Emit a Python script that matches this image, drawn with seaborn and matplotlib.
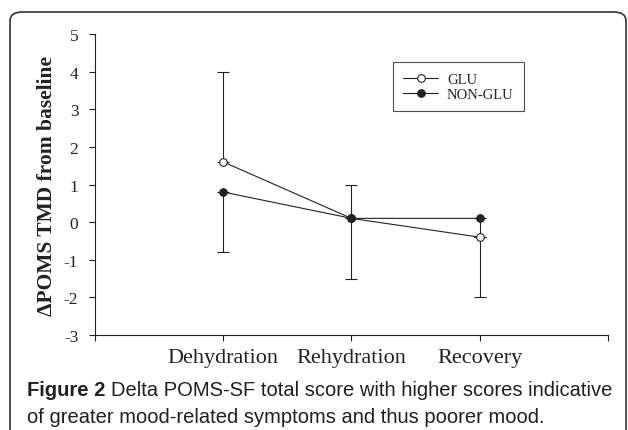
import numpy as np
import pandas as pd
import matplotlib
matplotlib.use('Agg')
import matplotlib.pyplot as plt
import seaborn as sns
from matplotlib.patches import FancyBboxPatch

phases = ['Dehydration', 'Rehydration', 'Recovery']
glu = [1.6, 0.1, -0.4]
non_glu = [0.8, 0.1, 0.1]
glu_err_up = [2.4, 0.9, 0.0]
non_glu_err_down = [1.6, 1.6, 2.1]

df = pd.DataFrame({'phase': phases * 2,
                   'value': glu + non_glu,
                   'group': ['GLU'] * 3 + ['NON-GLU'] * 3})

sns.set_style('ticks')
plt.rcParams['font.family'] = ['Liberation Serif', 'DejaVu Serif']
plt.rcParams['axes.unicode_minus'] = False

fig = plt.figure(figsize=(6.28, 4.31), dpi=100)
ax = fig.add_axes([0.1513, 0.2204, 0.8167, 0.6984])

ink = '#222222'
pos = np.arange(len(phases))

# one-sided error bars, under the markers
ax.errorbar(pos, glu, yerr=[np.zeros(3), glu_err_up], fmt='none',
            ecolor=ink, elinewidth=0.8, capsize=4, capthick=0.8, zorder=1)
ax.errorbar(pos, non_glu, yerr=[non_glu_err_down, np.zeros(3)], fmt='none',
            ecolor=ink, elinewidth=0.8, capsize=4, capthick=0.8, zorder=1)

sns.lineplot(data=df[df.group == 'GLU'], x='phase', y='value', ax=ax,
             color=ink, lw=0.8, marker='o', markersize=5.5, markerfacecolor='white',
             markeredgecolor=ink, markeredgewidth=0.8, label='GLU', zorder=3)
sns.lineplot(data=df[df.group == 'NON-GLU'], x='phase', y='value', ax=ax,
             color=ink, lw=0.8, marker='o', markersize=5.5, markerfacecolor=ink,
             markeredgecolor=ink, label='NON-GLU', zorder=4)

ax.set_xlim(-1, 3)
ax.set_ylim(-3, 5)
ax.set_xticks([-1, 0, 1, 2, 3])
ax.set_xticklabels([''] + phases + [''], fontsize=16, color=ink)
ax.set_yticks(range(-3, 6))
ax.set_yticklabels([str(v) for v in range(-3, 6)], fontsize=12.5, color=ink)
ax.tick_params(axis='y', length=4, width=0.8, pad=8, colors=ink)
ax.tick_params(axis='x', length=4, width=0.8, pad=5, colors=ink)
ax.set_xlabel('')
ax.set_ylabel('ΔPOMS TMD from baseline', fontsize=15.5, fontweight='bold', color=ink, labelpad=5)
sns.despine(ax=ax)
for s in ['left', 'bottom']:
    ax.spines[s].set_linewidth(0.8)
    ax.spines[s].set_color(ink)

h, l = ax.get_legend_handles_labels()
leg = ax.legend(h, l, loc='upper left',
                bbox_to_anchor=(0.567, 0.93), fontsize=10.5, frameon=True, fancybox=False,
                handlelength=2.4, borderpad=0.7, labelspacing=0.15, handletextpad=0.6)
leg.get_frame().set_edgecolor(ink)
leg.get_frame().set_linewidth(0.8)

# rounded frame round the figure
W, H = 628.0, 431.0
frame = FancyBboxPatch((10 / W, -0.2), 616 / W, 1.2 - 13 / H,
                       boxstyle='round,pad=0,rounding_size=0.02',
                       transform=fig.transFigure, fill=False, ec='#333333', lw=1.2)
fig.patches.append(frame)

# caption with bold lead
cap_font = ['Liberation Sans', 'DejaVu Sans']
fig.canvas.draw()
r = fig.canvas.get_renderer()
lines = [('Figure 2 ', 'Delta POMS-SF total score with higher scores indicative'),
         ('', 'of greater mood-related symptoms and thus poorer mood.')]
y0 = 1 - 391 / H
for i, (bold, rest) in enumerate(lines):
    y = y0 - i * 27 / H
    x = 27 / W
    if bold:
        t = fig.text(x, y, bold, fontsize=14.5, fontweight='bold', family=cap_font,
                     color='#231f20', va='center')
        x += t.get_window_extent(r).width / W
    fig.text(x, y, rest, fontsize=14.5, family=cap_font, color='#231f20', va='center')

fig.savefig('out.png', dpi=100)
